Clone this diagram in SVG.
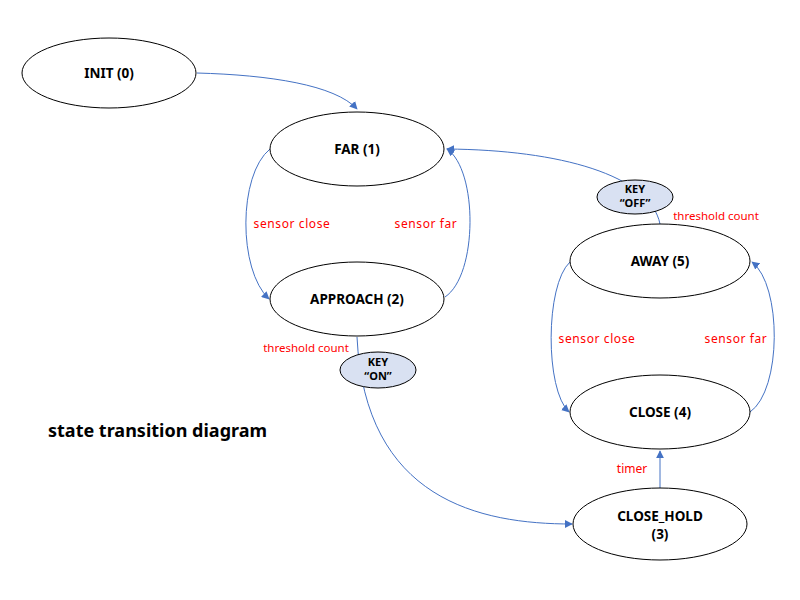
<svg xmlns="http://www.w3.org/2000/svg" width="800" height="600" viewBox="0 0 800 600">
<defs>
<marker id="arr" viewBox="0 0 10 10" refX="9" refY="5" markerWidth="8" markerHeight="8" markerUnits="userSpaceOnUse" orient="auto">
<path d="M0,0 L10,5 L0,10 z" fill="#4472C4"/>
</marker>
</defs>
<style>
.st{fill:#fff;stroke:#000;stroke-width:1}
.key{fill:#D9E1F2;stroke:#000;stroke-width:1}
.lbl{font-family:"Noto Sans","DejaVu Sans",sans-serif;font-size:13.5px;font-weight:bold;fill:#000;text-anchor:middle}
.klbl{font-family:"Noto Sans","DejaVu Sans",sans-serif;font-size:11px;font-weight:bold;fill:#000;text-anchor:middle}
.red{font-family:"Noto Sans","DejaVu Sans",sans-serif;font-size:12px;fill:#FF0000;text-anchor:middle}
.sen{letter-spacing:0.6px}
.thr{font-size:11.5px}
.c{fill:none;stroke:#4472C4;stroke-width:1}
.ca{fill:none;stroke:#4472C4;stroke-width:1;marker-end:url(#arr)}
.title{font-family:"Noto Sans","DejaVu Sans",sans-serif;font-size:18px;font-weight:bold;fill:#000}
</style>
<rect width="800" height="600" fill="#fff"/>
<g id="connectors">
<path class="ca" d="M197,73 C270,75 335,85 357,109"/>
<path class="ca" d="M270,149 C238,175 238,270 269,299"/>
<path class="ca" d="M445,297 C478,275 478,170 447,149"/>
<path class="ca" d="M660,224 C650,175 560,150 447,149"/>
<path class="ca" d="M357,337 C365,500 480,524 572,524"/>
<path class="ca" d="M660,488 L660,451"/>
<path class="ca" d="M570,262 C545,285 545,390 569,412"/>
<path class="ca" d="M750,412 C782,390 782,285 752,262"/>
</g>
<g id="init"><ellipse class="st" cx="109" cy="73" rx="87" ry="35"/><text class="lbl" x="109" y="78">INIT (0)</text></g>
<g id="far"><ellipse class="st" cx="357" cy="149" rx="87" ry="37"/><text class="lbl" x="357" y="154">FAR (1)</text></g>
<g id="approach"><ellipse class="st" cx="357" cy="299" rx="87" ry="37"/><text class="lbl" x="357" y="304">APPROACH (2)</text></g>
<g id="away"><ellipse class="st" cx="660" cy="261" rx="90" ry="37"/><text class="lbl" x="660" y="266">AWAY (5)</text></g>
<g id="close"><ellipse class="st" cx="660" cy="412" rx="90" ry="37"/><text class="lbl" x="660" y="417">CLOSE (4)</text></g>
<g id="close_hold"><ellipse class="st" cx="660" cy="524" rx="87" ry="36"/><text class="lbl" x="660" y="521">CLOSE_HOLD</text><text class="lbl" x="660" y="539">(3)</text></g>
<g id="key_on"><ellipse class="key" cx="378" cy="370" rx="38" ry="18"/><text class="klbl" x="378" y="366">KEY</text><text class="klbl" x="378" y="380">“ON”</text></g>
<g id="key_off"><ellipse class="key" cx="635" cy="197" rx="38" ry="17"/><text class="klbl" x="635" y="193">KEY</text><text class="klbl" x="635" y="207">“OFF”</text></g>
<g id="labels">
<text class="red sen" x="292" y="228">sensor close</text>
<text class="red sen" x="426" y="228">sensor far</text>
<text class="red sen" x="597" y="343">sensor close</text>
<text class="red sen" x="736" y="343">sensor far</text>
<text class="red thr" x="306" y="352">threshold count</text>
<text class="red thr" x="716" y="220">threshold count</text>
<text class="red" x="632" y="473">timer</text>
</g>
<text class="title" x="48" y="437">state transition diagram</text>
</svg>
